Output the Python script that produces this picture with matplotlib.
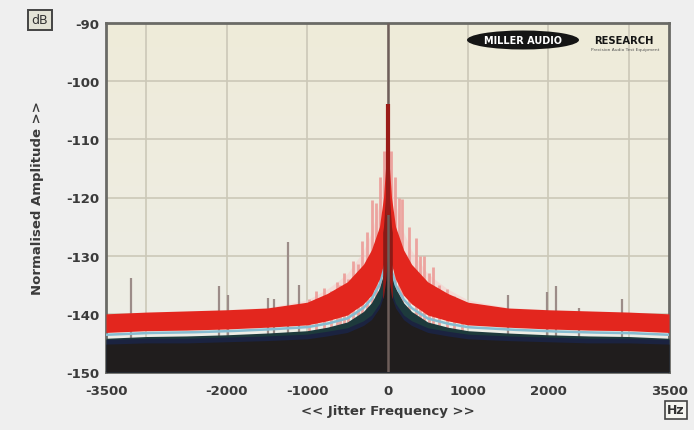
import numpy as np
import matplotlib
matplotlib.use("Agg")
import matplotlib.pyplot as plt
from matplotlib.patches import Ellipse
from matplotlib.colors import LinearSegmentedColormap

# ---- data ----
env_freq = [0, 20, 50, 100, 200, 300, 500, 750, 1000, 1500, 2000, 2500, 3000, 3500]
red_hi = [-104, -114, -120, -125, -129, -131.5, -134.5, -136.5, -138, -139, -139.3, -139.5, -139.7, -140]
red_lo = [-123, -128, -131.5, -134, -136.8, -138.3, -140.2, -141.2, -141.9, -142.3, -142.6, -142.8, -142.9, -143.2]
cyan_lvl = [-124, -129, -132.5, -135, -137.5, -139, -140.8, -141.7, -142.3, -142.7, -143, -143.2, -143.3, -143.6]
black_top = [-130, -134, -137, -139, -141, -142, -143.2, -143.8, -144.3, -144.6, -144.8, -145, -145, -145.2]

# pink sideband spikes (Hz, dB)
pink_freq = [-980, -884, -784, -700, -634, -585, -535, -485, -435, -370, -311, -255, -198, -140, -95, -45,
             45, 95, 140, 186, 270, 360, 410, 460, 510, 560, 640, 734, 833, 930]
pink_peak = [-137.5, -136, -135.5, -136, -134.5, -135, -133, -134, -131, -131.5, -127.5, -126, -120.5, -121, -116.5, -112,
             -112, -116.5, -120, -120.2, -125, -127, -130, -130, -133, -132, -135, -135.7, -137, -138]

# grey spikes (Hz, dB)
grey_freq = [-3184, -2090, -1978, -1492, -1405, -1232, -1095, 1493, 1978, 2090, 2375, 2910]
grey_peak = [-133.8, -135.2, -136.7, -137.2, -137.5, -127.6, -135.0, -136.7, -136.3, -135.2, -139.0, -137.5]

carrier_peak = -90
xticks = [-3500, -2000, -1000, 0, 1000, 2000, 3500]
yticks = [-90, -100, -110, -120, -130, -140, -150]
xgrid = [-3000, -2000, -1000, 0, 1000, 2000, 3000]

ef = np.array(env_freq, dtype=float)
fg = np.linspace(-3500, 3500, 2801)
def interp(a, f=fg):
    return np.interp(np.abs(f), ef, np.array(a, dtype=float))

rh = interp(red_hi); rl = interp(red_lo); cy = interp(cyan_lvl); bt = interp(black_top)

fig = plt.figure(figsize=(6.94, 4.31), dpi=100)
fig.patch.set_facecolor("#efefef")
ax = fig.add_axes([106/694, 1-373/431, (669-106)/694, (373-24)/431])
ax.set_xlim(-3500, 3500)
ax.set_ylim(-150, -90)

grad = np.linspace(0, 1, 256).reshape(-1, 1)
cm = LinearSegmentedColormap.from_list("bg", ["#efebd9", "#edeee8"])
ax.imshow(grad, extent=[-3500, 3500, -150, -90], aspect="auto", cmap=cm, origin="upper", zorder=0)

for x in xgrid:
    ax.axvline(x, color="#ccc8b8", lw=1.2, zorder=1)
for y in yticks:
    ax.axhline(y, color="#ccc8b8", lw=1.2, zorder=1)

# pink haze near centre
ax.fill_between(fg, rh, np.minimum(rh + 5 * np.exp(-np.abs(fg) / 400), -90), color="#f7d0ce", alpha=0.6, lw=0, zorder=2)
ax.vlines(grey_freq, -145, grey_peak, color="#9c8c88", lw=1.6, zorder=2)
ax.vlines(pink_freq, -145, pink_peak, color="#ec9c98", lw=2.0, alpha=0.9, zorder=2.5)

# black fill / navy / cyan
ax.fill_between(fg, -150, cy - 0.6, color="#1d3a3c", lw=0, zorder=3)
ax.fill_between(fg, -150, bt + 0.8, color="#1b2340", lw=0, zorder=3)
ax.fill_between(fg, -150, bt, color="#201d1d", lw=0, zorder=3)
ax.plot(fg, cy, color="#86bcd0", lw=1.8, zorder=4)
# red band
ax.fill_between(fg, rl, rh, color="#e3261e", lw=0, zorder=5)
# dark red core
core = np.abs(fg) <= 60
ax.fill_between(fg[core], interp(black_top, fg[core]), interp(red_hi, fg[core]) - 5,
                color="#8c1a16", lw=0, zorder=6)
# carrier
ax.vlines([0], -150, carrier_peak, color="#6e5e5a", lw=1.8, zorder=6)
ax.vlines([0], red_lo[0], red_hi[0], color="#9a1c18", lw=3, zorder=7)

ax.set_xticks(xticks)
ax.set_yticks(yticks)
ax.set_xticklabels([str(v) for v in xticks], fontsize=9.5, fontweight="bold", color="#3a3a3a")
ax.set_yticklabels([str(v) for v in yticks], fontsize=9.5, fontweight="bold", color="#3a3a3a")
ax.tick_params(axis="x", length=0, pad=9)
ax.tick_params(axis="y", length=0, pad=5)
for s in ax.spines.values():
    s.set_color("#6a6a66")
    s.set_linewidth(2)
ax.set_xlabel("<< Jitter Frequency >>", fontsize=9.5, fontweight="bold", color="#3a3a3a", labelpad=5)
ax.set_ylabel("Normalised Amplitude >>", fontsize=9.5, fontweight="bold", color="#3a3a3a", labelpad=16)

fig.text(40/694, 1-21/431, "dB", fontsize=9, color="#333", ha="center", va="center",
         bbox=dict(boxstyle="square,pad=0.3", fc="#e3e3d6", ec="#444", lw=1.4))
fig.text(676/694, 1-411/431, "Hz", fontsize=9, color="#333", ha="center", va="center", fontweight="bold",
         bbox=dict(boxstyle="square,pad=0.2", fc="#f4f4f0", ec="#444", lw=1.2))

def fig2ax(px, py):
    return ((px - 106) / (669 - 106), (373 - py) / (373 - 24))
cx, cyy = fig2ax(523, 41)
ax.add_patch(Ellipse((cx, cyy), 112 / 563, 19 / 349, transform=ax.transAxes, fc="#151515", ec="none", zorder=8))
ax.text(cx, cyy, "MILLER AUDIO", transform=ax.transAxes, ha="center", va="center", fontsize=7,
        fontweight="bold", color="white", zorder=9)
rx, ry = fig2ax(624, 41)
ax.text(rx, ry, "RESEARCH", transform=ax.transAxes, ha="center", va="center", fontsize=7.2,
        fontweight="bold", color="#151515", zorder=9)
tx, ty = fig2ax(625, 50)
ax.text(tx, ty, "Precision Audio Test Equipment", transform=ax.transAxes, ha="center", va="center", fontsize=3.2,
        color="#555", zorder=9)

fig.savefig("out.png", dpi=100, facecolor=fig.get_facecolor())
